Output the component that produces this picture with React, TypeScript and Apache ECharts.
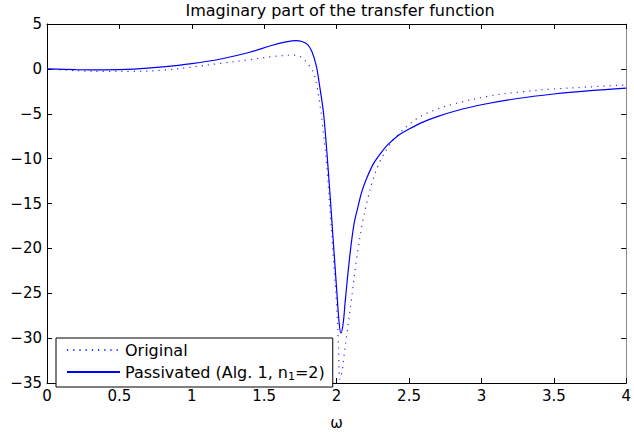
import React, { useEffect, useRef } from "react";
import * as echarts from "echarts";

const TITLE = "Imaginary part of the transfer function";
const X_LABEL = "ω";
const SERIES_NAMES = ["Original", "Passivated (Alg. 1, n{sub|1}=2)"];

const originalData: [number, number][] = [
  [0, 0], [0.2, -0.2], [0.4, -0.29], [0.6, -0.28], [0.8, -0.15], [1.0, 0.2],
  [1.2, 0.62], [1.4, 1.02], [1.55, 1.36], [1.65, 1.5], [1.7, 1.54], [1.74, 1.42],
  [1.77, 1.12], [1.81, 0.4], [1.84, -0.4], [1.86, -1.6], [1.88, -3.5], [1.9, -5.9],
  [1.93, -10.5], [1.955, -15.8], [1.977, -20.9], [2.0, -26.3], [2.013, -31.0],
  [2.023, -34.6], [2.04, -33.5], [2.055, -31.5], [2.068, -29.9], [2.1, -26.0],
  [2.14, -20.9], [2.18, -17.0], [2.21, -14.8], [2.25, -12.4], [2.3, -10.3],
  [2.36, -8.6], [2.42, -7.4], [2.5, -6.2], [2.59, -5.2], [2.7, -4.45], [2.82, -3.87],
  [3.05, -3.03], [3.27, -2.57], [3.5, -2.24], [3.73, -2.03], [4.0, -1.78],
];

const passivatedData: [number, number][] = [
  [0, 0], [0.2, -0.08], [0.4, -0.11], [0.6, -0.02], [0.8, 0.22], [1.0, 0.58],
  [1.2, 1.1], [1.4, 1.85], [1.55, 2.6], [1.65, 3.0], [1.72, 3.15], [1.76, 3.05],
  [1.8, 2.7], [1.83, 1.9], [1.86, 0.3], [1.88, -1.6], [1.91, -5.0], [1.94, -10.8],
  [1.97, -17.6], [2.0, -24.5], [2.018, -28.4], [2.03, -29.45], [2.045, -28.4],
  [2.06, -25.8], [2.09, -21.0], [2.12, -17.3], [2.15, -15.2], [2.17, -13.9],
  [2.2, -12.5], [2.25, -10.7], [2.3, -9.5], [2.35, -8.5], [2.43, -7.36], [2.5, -6.7],
  [2.6, -5.9], [2.7, -5.29], [2.82, -4.69], [3.0, -4.0], [3.25, -3.3],
  [3.5, -2.8], [3.75, -2.43], [4.0, -2.14],
];

const FONT = "DejaVu Sans";

const fmtY = (v: number) => (v < 0 ? "\u2212" + Math.abs(v) : String(v));

export default function App() {
  const ref = useRef<HTMLDivElement>(null);
  useEffect(() => {
    if (!ref.current) return;
    const chart = echarts.init(ref.current, undefined, { renderer: "svg" });
    const axisCommon = {
      axisLine: { show: true, onZero: false, lineStyle: { color: "#000", width: 1 } },
      axisTick: { show: true, inside: true, length: 5, lineStyle: { color: "#000" } },
      splitLine: { show: false },
    };
    chart.setOption({
      animation: false,
      backgroundColor: "#fff",
      grid: { left: 47, right: 1, top: 24, bottom: 41 },
      graphic: [
        {
          type: "text",
          x: 340,
          y: 2,
          style: {
            text: TITLE,
            fontFamily: FONT,
            fontSize: 16,
            fill: "#000",
            textAlign: "center",
          },
        },
      ],
      xAxis: [
        {
          type: "value",
          min: 0,
          max: 4,
          interval: 0.5,
          name: X_LABEL,
          nameLocation: "middle",
          nameGap: 32,
          nameTextStyle: { fontFamily: FONT, fontSize: 15, color: "#000" },
          ...axisCommon,
          axisLabel: {
            fontFamily: FONT,
            fontSize: 15,
            color: "#000",
            margin: 5,
            formatter: (v: number) => String(v),
          },
        },
        {
          type: "value",
          position: "top",
          min: 0,
          max: 4,
          interval: 0.5,
          ...axisCommon,
          axisLabel: { show: false },
        },
      ],
      yAxis: [
        {
          type: "value",
          min: -35,
          max: 5,
          interval: 5,
          ...axisCommon,
          axisLabel: {
            fontFamily: FONT,
            fontSize: 15,
            color: "#000",
            margin: 5,
            formatter: fmtY,
          },
        },
        {
          type: "value",
          position: "right",
          min: -35,
          max: 5,
          interval: 5,
          ...axisCommon,
          axisLine: { show: true, onZero: false, lineStyle: { color: "#888", width: 1 } },
          axisLabel: { show: false },
        },
      ],
      legend: {
        left: 56,
        top: 338,
        orient: "vertical",
        backgroundColor: "#fff",
        borderColor: "#000",
        borderWidth: 1,
        borderRadius: 0,
        padding: [4, 8, 5, 10],
        itemGap: 6,
        itemWidth: 53,
        itemHeight: 14,
        itemStyle: { opacity: 0 },
        lineStyle: { opacity: 1 },
        textStyle: {
          fontFamily: FONT,
          fontSize: 16,
          color: "#000",
          rich: {
            sub: { fontFamily: FONT, fontSize: 11, color: "#000", padding: [9, 0, 0, 0] },
          },
        },
        data: SERIES_NAMES.map((n) => ({ name: n })),
      },
      series: [
        {
          name: SERIES_NAMES[0],
          type: "line",
          data: originalData,
          showSymbol: false,
          symbol: "none",
          smooth: 0.35,
          lineStyle: { color: "#3030ff", width: 1.2, type: [1.2, 5] },
          itemStyle: { color: "#3030ff" },
          z: 2,
        },
        {
          name: SERIES_NAMES[1],
          type: "line",
          data: passivatedData,
          showSymbol: false,
          symbol: "none",
          smooth: 0.35,
          lineStyle: { color: "#0000ff", width: 1.2, type: "solid" },
          itemStyle: { color: "#0000ff" },
          z: 3,
        },
      ],
    });
    return () => chart.dispose();
  }, []);
  return (
    <div
      ref={ref}
      style={{ position: "fixed", left: 0, top: 0, width: 634, height: 435, background: "#fff" }}
    />
  );
}
